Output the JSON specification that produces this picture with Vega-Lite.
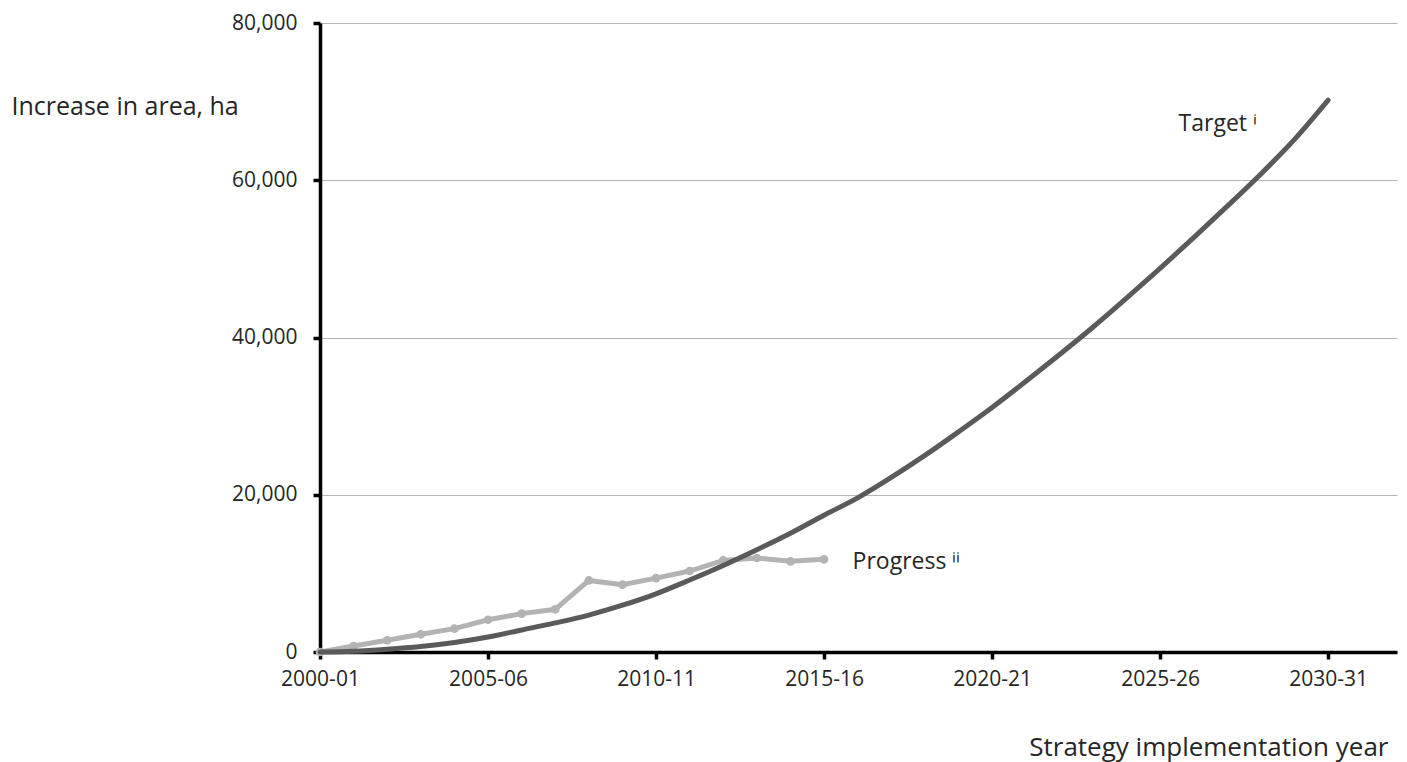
{
  "$schema": "https://vega.github.io/schema/vega-lite/v6.json",
  "autosize": {"type": "none"},
  "width": 1077,
  "height": 629,
  "padding": {"left": 320, "top": 23, "right": 10, "bottom": 110},
  "background": "white",
  "config": {
    "view": {"stroke": null},
    "font": "Open Sans",
    "text": {"font": "Open Sans"}
  },
  "data": {
    "values": [
      {"year": 2000, "value": 0, "series": "Target"},
      {"year": 2001, "value": 100, "series": "Target"},
      {"year": 2002, "value": 350, "series": "Target"},
      {"year": 2003, "value": 700, "series": "Target"},
      {"year": 2004, "value": 1200, "series": "Target"},
      {"year": 2005, "value": 1900, "series": "Target"},
      {"year": 2006, "value": 2800, "series": "Target"},
      {"year": 2007, "value": 3700, "series": "Target"},
      {"year": 2008, "value": 4700, "series": "Target"},
      {"year": 2009, "value": 5950, "series": "Target"},
      {"year": 2010, "value": 7400, "series": "Target"},
      {"year": 2011, "value": 9150, "series": "Target"},
      {"year": 2012, "value": 11000, "series": "Target"},
      {"year": 2013, "value": 13000, "series": "Target"},
      {"year": 2014, "value": 15100, "series": "Target"},
      {"year": 2015, "value": 17400, "series": "Target"},
      {"year": 2016, "value": 19600, "series": "Target"},
      {"year": 2017, "value": 22200, "series": "Target"},
      {"year": 2018, "value": 25000, "series": "Target"},
      {"year": 2019, "value": 28000, "series": "Target"},
      {"year": 2020, "value": 31100, "series": "Target"},
      {"year": 2021, "value": 34400, "series": "Target"},
      {"year": 2022, "value": 37800, "series": "Target"},
      {"year": 2023, "value": 41300, "series": "Target"},
      {"year": 2024, "value": 45000, "series": "Target"},
      {"year": 2025, "value": 48800, "series": "Target"},
      {"year": 2026, "value": 52700, "series": "Target"},
      {"year": 2027, "value": 56700, "series": "Target"},
      {"year": 2028, "value": 60800, "series": "Target"},
      {"year": 2029, "value": 65200, "series": "Target"},
      {"year": 2030, "value": 70200, "series": "Target"},
      {"year": 2000, "value": 0, "series": "Progress"},
      {"year": 2001, "value": 760, "series": "Progress"},
      {"year": 2002, "value": 1500, "series": "Progress"},
      {"year": 2003, "value": 2250, "series": "Progress"},
      {"year": 2004, "value": 2970, "series": "Progress"},
      {"year": 2005, "value": 4100, "series": "Progress"},
      {"year": 2006, "value": 4880, "series": "Progress"},
      {"year": 2007, "value": 5430, "series": "Progress"},
      {"year": 2008, "value": 9100, "series": "Progress"},
      {"year": 2009, "value": 8560, "series": "Progress"},
      {"year": 2010, "value": 9400, "series": "Progress"},
      {"year": 2011, "value": 10300, "series": "Progress"},
      {"year": 2012, "value": 11650, "series": "Progress"},
      {"year": 2013, "value": 11950, "series": "Progress"},
      {"year": 2014, "value": 11530, "series": "Progress"},
      {"year": 2015, "value": 11790, "series": "Progress"}
    ]
  },
  "encoding": {
    "x": {
      "field": "year",
      "type": "quantitative",
      "scale": {"domain": [2000, 2032.05], "nice": false, "zero": false},
      "axis": {
        "values": [2000, 2005, 2010, 2015, 2020, 2025, 2030],
        "labelExpr": "datum.value + '-' + substring(toString(datum.value + 1), 2, 4)",
        "grid": false,
        "domainColor": "#000000",
        "domainWidth": 3.5,
        "tickColor": "#000000",
        "tickWidth": 3.5,
        "tickSize": 7,
        "labelFont": "Open Sans",
        "labelFontSize": 21,
        "labelColor": "#262626",
        "labelPadding": 9,
        "labelFlush": false,
        "title": "Strategy implementation year",
        "titleFont": "Open Sans",
        "titleFontSize": 26,
        "titleFontWeight": "normal",
        "titleColor": "#262626",
        "titleAlign": "right",
        "titleAnchor": null,
        "titleX": 1068,
        "titleY": 95,
        "titleBaseline": "middle"
      }
    },
    "y": {
      "field": "value",
      "type": "quantitative",
      "scale": {"domain": [0, 80000], "nice": false},
      "axis": {
        "values": [0, 20000, 40000, 60000, 80000],
        "format": ",d",
        "grid": true,
        "gridColor": "#b5b5b5",
        "gridWidth": 1,
        "domainColor": "#000000",
        "domainWidth": 3.5,
        "tickColor": "#000000",
        "tickWidth": 3.5,
        "tickSize": 7,
        "labelFont": "Open Sans",
        "labelFontSize": 21,
        "labelColor": "#262626",
        "labelPadding": 16,
        "labelFlush": false,
        "title": "Increase in area, ha",
        "titleFont": "Open Sans",
        "titleFontSize": 25,
        "titleFontWeight": "normal",
        "titleColor": "#262626",
        "titleAngle": 0,
        "titleAlign": "left",
        "titleAnchor": null,
        "titleX": -309,
        "titleY": 83,
        "titleBaseline": "middle"
      }
    }
  },
  "layer": [
    {
      "transform": [{"filter": "datum.series === 'Progress'"}],
      "mark": {"type": "line", "color": "#b3b3b3", "strokeWidth": 5, "point": {"filled": true, "size": 75, "color": "#b3b3b3"}}
    },
    {
      "transform": [{"filter": "datum.series === 'Target'"}],
      "mark": {"type": "line", "color": "#5a5a5a", "strokeWidth": 5, "interpolate": "monotone", "strokeCap": "round"}
    },
    {
      "transform": [{"filter": "datum.series === 'Target' && datum.year === 2030"}],
      "mark": {"type": "text", "align": "left", "baseline": "middle", "fontSize": 23, "color": "#262626", "font": "Open Sans"},
      "encoding": {
        "x": {"datum": 2025.55},
        "y": {"datum": 67100},
        "text": {"value": "Target ⁱ"}
      }
    },
    {
      "transform": [{"filter": "datum.series === 'Progress' && datum.year === 2015"}],
      "mark": {"type": "text", "align": "left", "baseline": "middle", "fontSize": 23, "color": "#262626", "font": "Open Sans"},
      "encoding": {
        "x": {"datum": 2015.85},
        "y": {"datum": 11400},
        "text": {"value": "Progress ⁱⁱ"}
      }
    }
  ]
}
